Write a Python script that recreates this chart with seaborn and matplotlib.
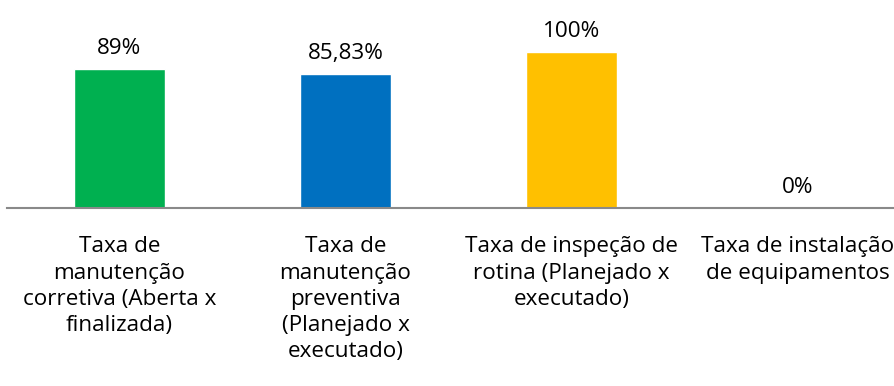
import matplotlib
matplotlib.use("Agg")
import matplotlib.pyplot as plt
import seaborn as sns
import pandas as pd

categories = [
    "Taxa de\nmanutenção\ncorretiva (Aberta x\nfinalizada)",
    "Taxa de\nmanutenção\npreventiva\n(Planejado x\nexecutado)",
    "Taxa de inspeção de\nrotina (Planejado x\nexecutado)",
    "Taxa de instalação\nde equipamentos",
]
values = [89, 85.83, 100, 0]
colors = ["#00B050", "#0070C0", "#FFC000", "#A5A5A5"]

sns.set_theme(style="white")
plt.rcParams["font.family"] = ["Open Sans", "DejaVu Sans"]

df = pd.DataFrame({"cat": categories, "val": values})

fig = plt.figure(figsize=(8.94, 3.86), dpi=100)
ax = fig.add_axes([6.5 / 894, 178 / 386, 904 / 894, 187.2 / 386])

sns.barplot(data=df, x="cat", y="val", hue="cat", palette=colors,
            width=0.4, legend=False, ax=ax, saturation=1)

ax.set_ylim(0, 120)
ax.set_xlim(-0.5, 3.5)
ax.set_xlabel("")
ax.set_ylabel("")
ax.set_yticks([])

for s in ["top", "left", "right"]:
    ax.spines[s].set_visible(False)
ax.spines["bottom"].set_color("#898989")
ax.spines["bottom"].set_linewidth(1.5)

ax.tick_params(axis="x", length=0, pad=20.5, labelsize=16.2, labelcolor="#000000")
for lbl in ax.get_xticklabels():
    lbl.set_linespacing(1.32)
    lbl.set_verticalalignment("top")

labels = [f"{v:g}".replace(".", ",") + "%" for v in values]
for container in ax.containers:
    ax.bar_label(container,
                 labels=[labels[int(round(r.get_x() + r.get_width() / 2))] for r in container],
                 padding=7, fontsize=16.2, color="#000000")

fig.savefig("out.png", dpi=100)
